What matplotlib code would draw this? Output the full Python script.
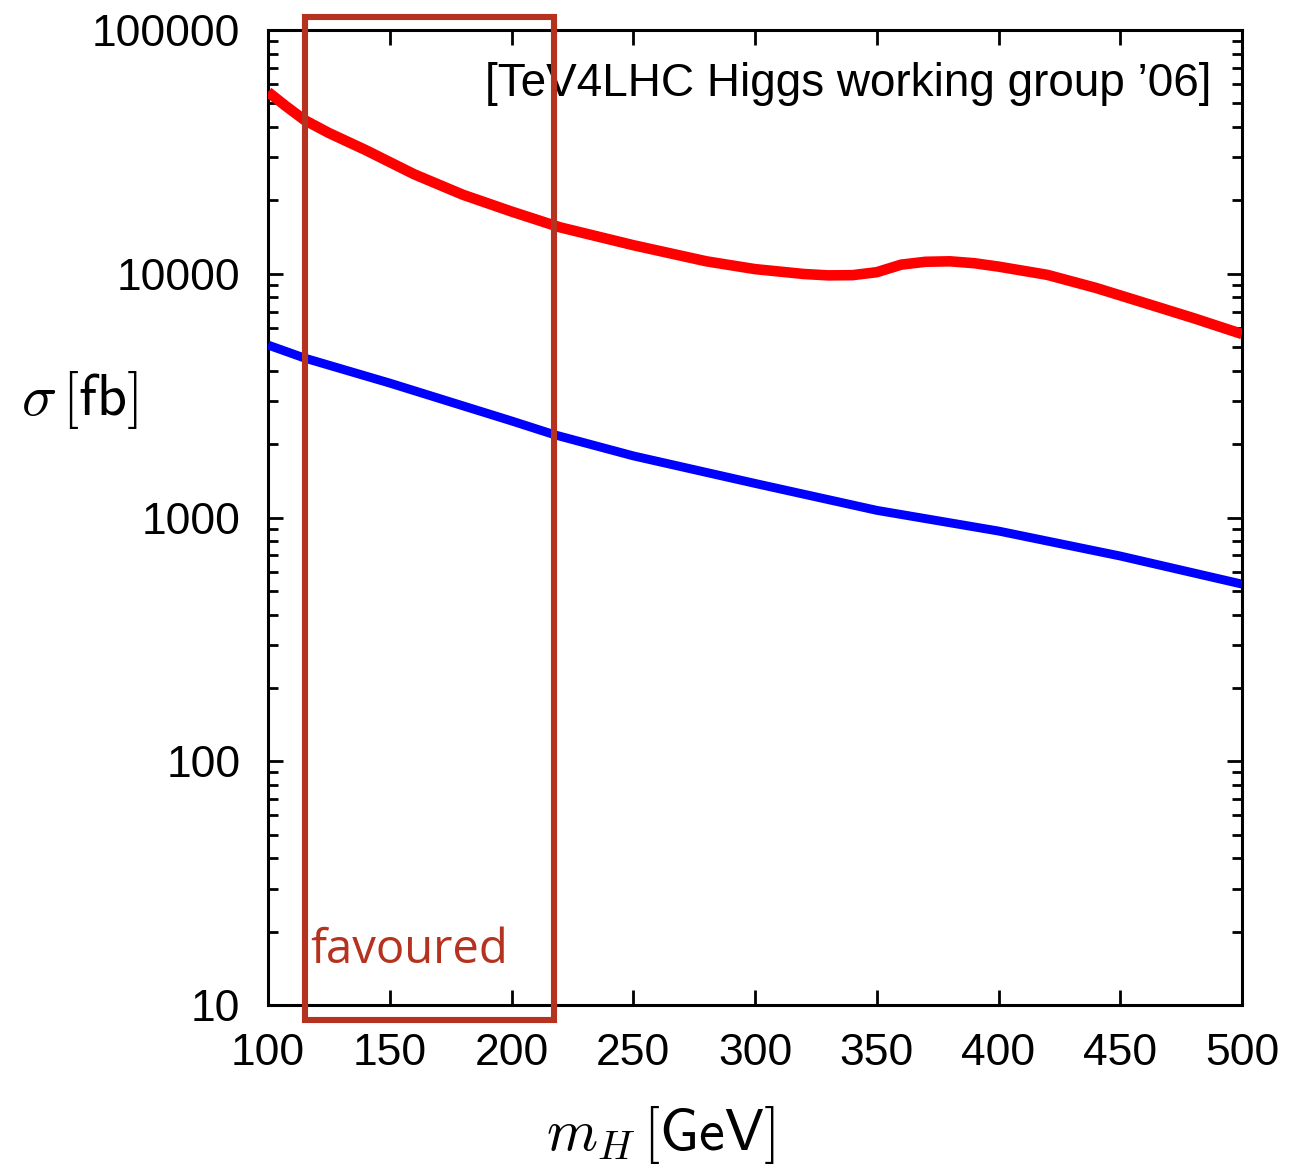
import matplotlib
matplotlib.use("Agg")
import matplotlib.pyplot as plt
from matplotlib.patches import Rectangle
from matplotlib.ticker import FixedLocator, LogLocator, NullFormatter, FuncFormatter, NullLocator

plt.rcParams['mathtext.fontset'] = 'cm'

# Data
mh_red = [100, 107, 115, 125, 140, 160, 180, 200, 220, 250, 280, 300, 320, 330, 340, 350, 360, 370, 380, 390, 400, 420, 440, 460, 480, 500]
sigma_red = [55700, 49000, 42700, 37800, 32200, 25600, 21100, 18000, 15500, 13100, 11250, 10450, 9980, 9850, 9870, 10150, 10900, 11200, 11250, 11050, 10700, 9900, 8750, 7590, 6580, 5660]

mh_blue = [100, 115, 150, 200, 218, 250, 300, 350, 400, 450, 500]
sigma_blue = [5100, 4510, 3560, 2490, 2180, 1790, 1380, 1070, 880, 695, 533]

xticks = [100, 150, 200, 250, 300, 350, 400, 450, 500]
yticks = [10, 100, 1000, 10000, 100000]

fav_range = [115, 217.5]
fav_sigma = [8.7, 113000]

fig = plt.figure(figsize=(12.95, 11.64), dpi=100)
ax = fig.add_axes([0.2070, 0.1366, 0.7521, 0.8376])

ax.plot(mh_red, sigma_red, color='#ff0000', lw=7.6, solid_capstyle='butt', solid_joinstyle='round', zorder=3)
ax.plot(mh_blue, sigma_blue, color='#0000ff', lw=6.4, solid_capstyle='butt', solid_joinstyle='round', zorder=3)

ax.set_yscale('log')
ax.set_xlim(100, 500)
ax.set_ylim(10, 100000)

ax.xaxis.set_major_locator(FixedLocator(xticks))
ax.xaxis.set_minor_locator(NullLocator())
ax.yaxis.set_major_locator(FixedLocator(yticks))
ax.yaxis.set_minor_locator(LogLocator(base=10, subs=range(2, 10)))
ax.yaxis.set_minor_formatter(NullFormatter())
ax.yaxis.set_major_formatter(FuncFormatter(lambda v, p: f"{int(round(v))}"))
ax.xaxis.set_major_formatter(FuncFormatter(lambda v, p: f"{int(round(v))}"))

for s in ax.spines.values():
    s.set_linewidth(2.2)

ax.tick_params(which='both', direction='in', top=True, right=True, width=2.0)
ax.tick_params(which='major', length=11)
ax.tick_params(which='minor', length=7)
ax.tick_params(axis='y', labelsize=32, pad=20)
ax.tick_params(axis='x', labelsize=32, pad=20)
for lbl in ax.get_xticklabels() + ax.get_yticklabels():
    lbl.set_fontfamily('Liberation Sans')

rect = Rectangle((fav_range[0], fav_sigma[0]), fav_range[1] - fav_range[0], fav_sigma[1] - fav_sigma[0],
                 fill=False, edgecolor='#b5321f', lw=4.4, clip_on=False, zorder=4)
ax.add_patch(rect)

ax.text(117.2, 14.9, 'favoured', color='#b5321f', fontsize=34, family='Open Sans', va='baseline', ha='left', zorder=5)

ax.text(0.969, 0.945, "[TeV4LHC Higgs working group \u201906]", transform=ax.transAxes,
        ha='right', va='center', fontsize=33, family='Liberation Sans', zorder=2)

fig.text(660 / 1295, 1 - 1135 / 1164, r'$m_H\,\mathsf{[GeV]}$', fontsize=42, ha='center', va='center')
fig.text(80 / 1295, 1 - 400 / 1164, r'$\sigma\,\mathsf{[fb]}$', fontsize=42, ha='center', va='center')

fig.savefig('out.png', dpi=100)
